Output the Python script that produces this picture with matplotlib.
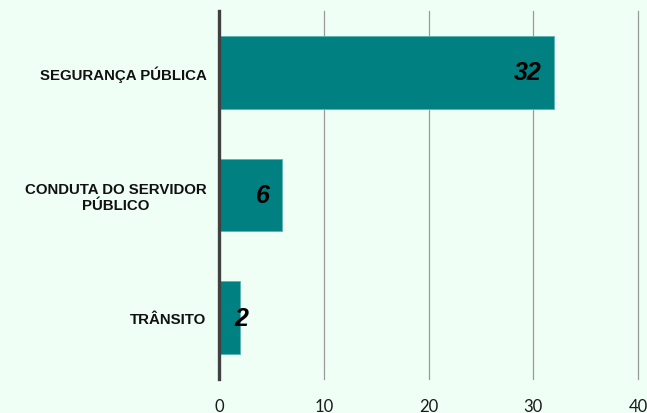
import matplotlib
matplotlib.use("Agg")
import matplotlib.pyplot as plt

categories = ["SEGURANÇA PÚBLICA", "CONDUTA DO SERVIDOR\nPÚBLICO", "TRÂNSITO"]
values = [32, 6, 2]
xticks = [0, 10, 20, 30, 40]

bg = "#effff6"
bar_color = "#008080"

fig = plt.figure(figsize=(6.47, 4.14), dpi=100, facecolor=bg)
ax = fig.add_axes([219/647, 1-380/414, (638-219)/647, (380-12)/414], facecolor=bg)

y = list(range(len(categories)))
ax.barh(y, values, height=0.59, color=bar_color, edgecolor="#5fb3b3", linewidth=0.6, zorder=3)
ax.set_ylim(2.5, -0.5)
ax.set_xlim(0, 40)
ax.set_xticks(xticks)
ax.set_xticklabels([str(t) for t in xticks], fontsize=12, family="Lato", color="#1a1a1a")
ax.set_yticks(y)
ax.set_yticklabels(categories, fontsize=10.8, fontweight="bold", family="Liberation Sans",
                   color="#111111", multialignment="center", linespacing=1.12)
ax.tick_params(axis="both", length=0)
ax.tick_params(axis="y", pad=9)
ax.tick_params(axis="x", pad=14)
ax.xaxis.grid(True, color="#999999", linewidth=0.9, zorder=0)
for gl in ax.get_xgridlines():
    gl.set_clip_on(False)
ax.yaxis.grid(False)
for s in ["top", "right", "bottom"]:
    ax.spines[s].set_visible(False)
ax.spines["left"].set_color("#404040")
ax.spines["left"].set_linewidth(2.4)
ax.spines["left"].set_zorder(4)

for yi, v in zip(y, values):
    if v >= 5:
        ax.annotate(str(v), xy=(v, yi), xytext=(-9, 0), textcoords="offset points",
                    ha="right", va="center", fontsize=18, fontweight="bold", fontstyle="italic",
                    family="Liberation Sans", color="black", zorder=5)
    else:
        ax.annotate(str(v), xy=(0, yi), xytext=(11, 0), textcoords="offset points",
                    ha="left", va="center", fontsize=18, fontweight="bold", fontstyle="italic",
                    family="Liberation Sans", color="black", zorder=5)

fig.savefig("out.png", dpi=100, facecolor=bg)
